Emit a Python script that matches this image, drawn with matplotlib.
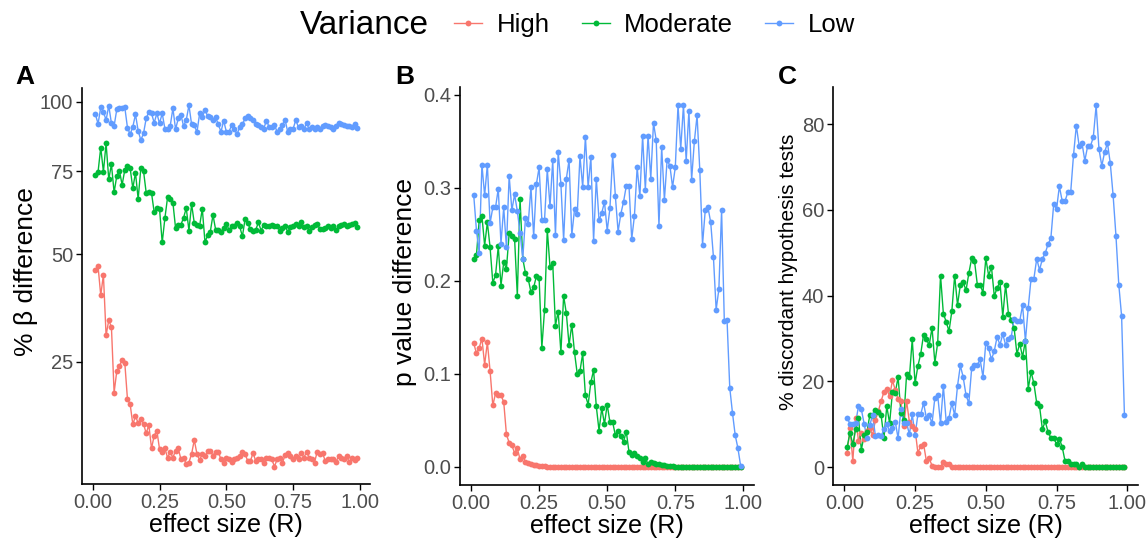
import numpy as np
import matplotlib
matplotlib.use('Agg')
import matplotlib.pyplot as plt
from matplotlib.lines import Line2D

plt.rcParams['font.family'] = ['Liberation Sans', 'DejaVu Sans']

# effect size grid 0.01 .. 0.99
effect = np.arange(1, 100) / 100
groups = ['High', 'Moderate', 'Low']
colors = ['#F8766D', '#00BA38', '#619CFF']

# A: % beta difference
beta_high = [45.7, 46.7, 39.4, 44.5, 30.3, 33.6, 32.1, 19.4, 23.2, 24.1,
             25.4, 24.8, 18.3, 17.5, 14.4, 15.6, 14.6, 15.2, 14.5, 13.1,
             14.3, 11.1, 12.8, 13.5, 11.0, 10.7, 11.1, 9.95, 10.6, 9.95,
             10.8, 11.1, 9.75, 9.95, 9.16, 9.36, 10.4, 12.2, 10.4, 9.67,
             10.4, 10.1, 10.8, 10.8, 10.2, 10.7, 10.6, 9.75, 9.28, 9.95,
             9.83, 9.44, 9.75, 9.95, 10.2, 10.6, 10.4, 9.55, 9.55, 10.5,
             9.55, 9.75, 9.83, 9.28, 9.95, 9.95, 9.75, 8.89, 9.75, 9.95,
             9.36, 10.24, 10.5, 10.2, 9.75, 10.1, 9.75, 10.5, 9.95, 10.6,
             9.95, 9.75, 9.36, 10.7, 10.4, 10.5, 9.55, 9.83, 9.75, 9.83,
             9.44, 10.1, 9.95, 9.75, 10.1, 9.44, 9.95, 9.67, 9.95]
beta_mod = [73.7, 74.9, 83.2, 74.9, 84.7, 72.4, 77.4, 68.2, 73.5, 75.2,
            70.6, 75.5, 76.8, 76.1, 69.5, 74.6, 66.1, 76.1, 75.2, 68.1,
            68.4, 68.0, 62.0, 63.3, 63.0, 53.2, 60.2, 66.6, 66.1, 65.0,
            57.3, 58.3, 58.3, 60.4, 63.3, 56.6, 64.5, 58.8, 58.3, 58.0,
            63.1, 53.3, 55.2, 56.3, 61.2, 56.8, 56.8, 56.3, 57.3, 58.6,
            56.8, 57.8, 58.0, 58.8, 57.8, 54.9, 59.9, 58.8, 57.0, 56.6,
            56.8, 59.0, 56.6, 58.3, 58.0, 58.0, 58.3, 58.0, 57.8, 56.6,
            57.3, 57.8, 56.3, 57.5, 58.0, 58.6, 58.0, 59.0, 57.5, 58.0,
            56.6, 57.5, 58.3, 58.6, 57.0, 57.0, 57.3, 58.0, 57.3, 58.0,
            56.8, 57.8, 58.3, 58.6, 57.8, 58.3, 58.6, 58.8, 57.5]
beta_low = [95.3, 91.7, 97.9, 96.2, 93.1, 98.5, 91.9, 90.9, 97.1, 97.7,
            97.7, 97.9, 90.3, 87.9, 90.6, 95.2, 89.2, 85.8, 88.2, 93.7,
            96.2, 95.6, 92.1, 95.6, 91.9, 95.6, 90.0, 89.7, 91.0, 97.5,
            89.7, 93.7, 95.0, 90.9, 93.1, 98.7, 91.5, 91.3, 88.6, 95.6,
            94.1, 96.9, 94.6, 94.3, 93.3, 94.1, 91.5, 88.8, 92.9, 88.8,
            88.8, 91.3, 89.7, 88.0, 90.4, 91.5, 93.7, 94.6, 93.7, 93.3,
            91.5, 91.3, 90.4, 90.0, 92.9, 90.6, 90.6, 91.3, 88.8, 89.7,
            91.3, 93.1, 88.6, 89.7, 90.0, 93.1, 90.4, 90.9, 89.7, 91.9,
            89.8, 90.4, 90.0, 90.4, 90.0, 90.9, 91.3, 90.9, 90.4, 89.7,
            90.9, 92.1, 91.6, 91.3, 90.9, 90.9, 90.6, 91.5, 90.3]

# B: p value difference
pval_high = [0.133, 0.122, 0.128, 0.138, 0.110, 0.134, 0.103, 0.066, 0.079, 0.077,
             0.077, 0.070, 0.035, 0.026, 0.023, 0.015, 0.020, 0.008, 0.012, 0.005,
             0.004, 0.003, 0.002, 0.002, 0.001, 0.001, 0.001, 0, 0, 0,
             0, 0, 0, 0, 0, 0, 0, 0, 0, 0,
             0, 0, 0, 0, 0, 0, 0, 0, 0, 0,
             0, 0, 0, 0, 0, 0, 0, 0, 0, 0,
             0, 0, 0, 0, 0, 0, 0, 0, 0, 0,
             0, 0, 0, 0, 0, 0, 0, 0, 0, 0,
             0, 0, 0, 0, 0, 0, 0, 0, 0, 0,
             0, 0, 0, 0, 0, 0, 0, 0, 0]
pval_mod = [0.223, 0.228, 0.265, 0.270, 0.238, 0.263, 0.236, 0.198, 0.206, 0.237,
            0.195, 0.220, 0.213, 0.251, 0.248, 0.245, 0.184, 0.288, 0.224, 0.208,
            0.202, 0.188, 0.193, 0.205, 0.203, 0.128, 0.169, 0.255, 0.215, 0.219,
            0.152, 0.167, 0.123, 0.184, 0.165, 0.131, 0.153, 0.123, 0.100, 0.103,
            0.122, 0.077, 0.067, 0.091, 0.104, 0.065, 0.039, 0.063, 0.046, 0.067,
            0.048, 0.048, 0.034, 0.039, 0.033, 0.027, 0.038, 0.016, 0.013, 0.015,
            0.012, 0.009, 0.005, 0.009, 0.003, 0.005, 0.004, 0.003, 0.003, 0.002,
            0.002, 0.001, 0.001, 0.001, 0, 0, 0, 0, 0, 0,
            0, 0, 0, 0, 0, 0, 0, 0, 0, 0,
            0, 0, 0, 0, 0, 0, 0, 0, 0]
pval_low = [0.292, 0.254, 0.230, 0.325, 0.292, 0.325, 0.262, 0.279, 0.279, 0.299,
            0.240, 0.279, 0.236, 0.313, 0.276, 0.293, 0.275, 0.252, 0.224, 0.268,
            0.261, 0.301, 0.248, 0.304, 0.322, 0.266, 0.266, 0.320, 0.280, 0.330,
            0.249, 0.339, 0.304, 0.244, 0.310, 0.330, 0.249, 0.277, 0.272, 0.334,
            0.301, 0.355, 0.301, 0.333, 0.243, 0.310, 0.265, 0.273, 0.285, 0.254,
            0.278, 0.335, 0.291, 0.253, 0.272, 0.285, 0.302, 0.302, 0.245, 0.270,
            0.322, 0.291, 0.356, 0.298, 0.356, 0.310, 0.370, 0.351, 0.259, 0.344,
            0.287, 0.330, 0.324, 0.301, 0.322, 0.389, 0.342, 0.389, 0.329, 0.383,
            0.309, 0.350, 0.378, 0.319, 0.239, 0.276, 0.279, 0.263, 0.226, 0.169,
            0.191, 0.276, 0.157, 0.158, 0.085, 0.058, 0.034, 0.020, 0.001]

# C: % discordant hypothesis tests
disc_high = [3.3, 9.0, 1.4, 11.4, 6.1, 8.0, 6.5, 8.5, 9.0, 7.5,
             11.0, 13.0, 15.4, 17.5, 18.2, 16.5, 20.2, 18.0, 15.8, 15.4,
             9.5, 15.4, 10.5, 9.5, 8.8, 3.3, 4.9, 5.4, 1.4, 2.0,
             0.3, 0, 0, 0, 1.2, 0.8, 0.6, 0, 0, 0,
             0, 0, 0, 0, 0, 0, 0, 0, 0, 0,
             0, 0, 0, 0, 0, 0, 0, 0, 0, 0,
             0, 0, 0, 0, 0, 0, 0, 0, 0, 0,
             0, 0, 0, 0, 0, 0, 0, 0, 0, 0,
             0, 0, 0, 0, 0, 0, 0, 0, 0, 0,
             0, 0, 0, 0, 0, 0, 0, 0, 0]
disc_mod = [4.7, 8.0, 5.3, 8.8, 11.5, 4.0, 7.4, 8.2, 12.1, 12.1,
            13.2, 12.9, 12.1, 6.7, 14.2, 10.2, 17.5, 17.3, 21.0, 12.7,
            11.0, 21.6, 21.0, 29.8, 19.5, 23.6, 26.4, 30.9, 29.8, 28.5,
            32.5, 24.3, 29.0, 44.7, 35.8, 33.9, 31.7, 36.4, 44.7, 37.8,
            42.5, 43.2, 41.2, 45.2, 48.7, 48.1, 42.6, 42.6, 40.7, 48.7,
            44.7, 46.7, 39.9, 41.8, 43.2, 35.1, 42.6, 35.8, 34.4, 32.5,
            26.4, 28.8, 25.7, 29.5, 18.3, 22.2, 19.5, 14.9, 14.2, 8.8,
            10.7, 8.2, 6.8, 6.8, 5.3, 6.6, 4.7, 1.4, 1.4, 0.6,
            0.8, 0.8, 0, 0.8, 0, 0, 0, 0, 0, 0,
            0, 0, 0, 0, 0, 0, 0, 0, 0]
disc_low = [11.4, 10.1, 10.0, 10.3, 14.2, 13.5, 10.1, 6.7, 9.8, 12.1,
            7.2, 7.4, 7.2, 8.8, 10.0, 8.4, 9.2, 10.6, 6.7, 13.5,
            10.3, 10.3, 7.6, 12.3, 7.4, 12.3, 12.3, 14.9, 11.5, 12.1,
            10.2, 16.2, 16.7, 10.2, 18.9, 10.6, 11.5, 14.9, 12.1, 18.9,
            23.7, 21.0, 16.8, 14.9, 23.0, 23.7, 23.7, 25.1, 21.0, 29.0,
            27.7, 25.1, 27.1, 30.4, 28.5, 31.0, 28.5, 29.9, 30.4, 34.6,
            34.1, 34.1, 37.8, 29.4, 37.2, 44.0, 44.0, 48.6, 46.0, 48.6,
            49.9, 52.0, 53.4, 61.4, 60.2, 65.5, 62.1, 62.1, 64.1, 64.1,
            72.8, 79.7, 74.9, 75.6, 71.5, 74.9, 74.9, 77.0, 84.4, 74.2,
            70.3, 73.5, 75.6, 70.9, 63.4, 54.0, 42.6, 35.2, 12.1]

W, H = 1148, 543
fig = plt.figure(figsize=(W / 100, H / 100), dpi=100)


def box(l, r, t, b):
    return [l / W, 1 - b / H, (r - l) / W, (b - t) / H]


def style(ax):
    for s in ['top', 'right']:
        ax.spines[s].set_visible(False)
    for s in ['left', 'bottom']:
        ax.spines[s].set_linewidth(1.2)
    ax.tick_params(direction='out', length=4, width=1.0, labelsize=14.5,
                   labelcolor='#4D4D4D', pad=2.5)
    ax.set_xlim(-0.039, 1.039)
    ax.set_xticks([0, 0.25, 0.5, 0.75, 1.0])
    ax.set_xticklabels(['0.00', '0.25', '0.50', '0.75', '1.00'])
    ax.set_xlabel('effect size (R)', fontsize=18, labelpad=1)


def draw(ax, series):
    # lines first, then points (ggplot layer order)
    for ys, c in zip(series, colors):
        ax.plot(effect, ys, color=c, lw=1.0, zorder=2)
    for ys, c in zip(series, colors):
        ax.plot(effect, ys, 'o', color=c, ms=4.2, mew=0, zorder=3)


axA = fig.add_axes(box(82.3, 370.4, 88, 484))
axA.set_yscale('function', functions=(np.sqrt, np.square))
draw(axA, [beta_high, beta_mod, beta_low])
style(axA)
axA.set_ylim(7.0, 105.4)
axA.set_yticks([25, 50, 75, 100])
axA.set_yticklabels(['25', '50', '75', '100'])

axB = fig.add_axes(box(460.4, 754, 87, 485))
draw(axB, [pval_high, pval_mod, pval_low])
style(axB)
axB.set_ylim(-0.0195, 0.4085)
axB.set_yticks([0, 0.1, 0.2, 0.3, 0.4])
axB.set_yticklabels(['0.0', '0.1', '0.2', '0.3', '0.4'])

axC = fig.add_axes(box(833.3, 1138.3, 87, 485))
draw(axC, [disc_high, disc_mod, disc_low])
style(axC)
axC.set_ylim(-4.2, 88.7)
axC.set_yticks([0, 20, 40, 60, 80])

# y labels and panel tags
fig.text(26 / W, 1 - 272 / H, '% β difference', rotation=90, fontsize=19,
         ha='center', va='center')
fig.text(405 / W, 1 - 282 / H, 'p value difference', rotation=90, fontsize=19,
         ha='center', va='center')
fig.text(789 / W, 1 - 272 / H, '% discordant hypothesis tests', rotation=90,
         fontsize=15, ha='center', va='center')
for lab, x in zip(['A', 'B', 'C'], [25, 405, 787]):
    fig.text(x / W, 1 - 77 / H, lab, fontsize=19, fontweight='bold',
             ha='center', va='center')

# legend on top
fig.text(300 / W, 1 - 25 / H, 'Variance', fontsize=24, ha='left', va='center')
handles = [Line2D([0], [0], color=c, lw=1.0, marker='o', ms=4.2, mew=0)
           for c in colors]
fig.legend(handles, groups, ncol=3, loc='center left',
           bbox_to_anchor=(454 / W, 1 - 25 / H), frameon=False, fontsize=18.5,
           handlelength=1.1, handletextpad=0.55, columnspacing=1.25,
           borderpad=0, borderaxespad=0)

plt.savefig('out.png', dpi=100)
